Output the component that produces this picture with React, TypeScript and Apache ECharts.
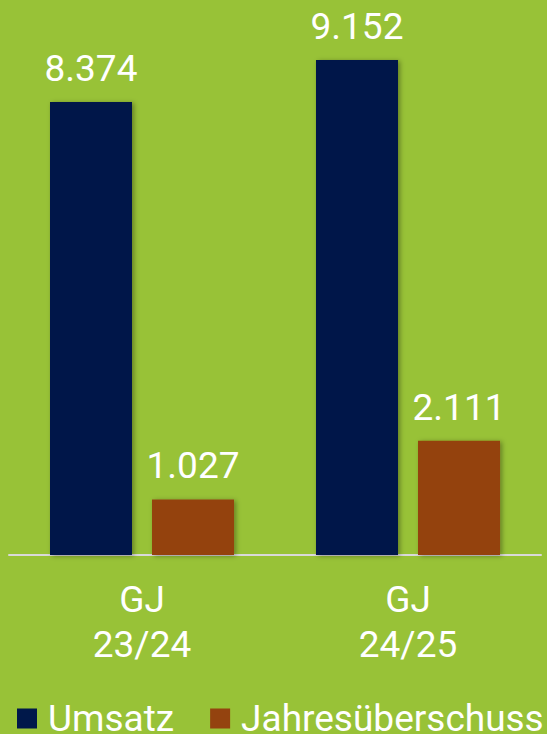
import React, { useEffect, useRef } from "react";
import * as echarts from "echarts";

const categories = ["GJ\n23/24", "GJ\n24/25"];
const umsatz = [8374, 9152];
const jahresueberschuss = [1027, 2111];
const seriesNames = ["Umsatz", "Jahresüberschuss"];

const fmt = (v: number) => {
  const s = String(Math.round(v));
  return s.replace(/\B(?=(\d{3})+(?!\d))/g, ".");
};

export default function App() {
  const ref = useRef<HTMLDivElement>(null);
  useEffect(() => {
    document.body.style.margin = "0";
    const chart = echarts.init(ref.current!, null, { renderer: "svg" });
    const font = "Roboto";
    const shadow = {
      shadowColor: "rgba(0,0,0,0.35)",
      shadowBlur: 5,
      shadowOffsetX: 2,
      shadowOffsetY: 1,
    };
    const label = {
      show: true,
      position: "top",
      distance: 15,
      color: "#ffffff",
      fontSize: 37,
      fontFamily: font,
      formatter: (p: any) => fmt(p.value),
    };
    chart.setOption({
      animation: false,
      backgroundColor: "#98C237",
      textStyle: { fontFamily: font },
      grid: { left: 9, right: 6, top: 14, bottom: 179, containLabel: false },
      legend: {
        left: 17,
        top: 700,
        width: 600,
        padding: 0,
        orient: "horizontal",
        itemWidth: 20,
        itemHeight: 20,
        itemGap: 36,
        icon: "rect",
        textStyle: { color: "#ffffff", fontSize: 37, fontFamily: font, padding: [0, 0, 0, 6] },
        data: seriesNames,
      },
      xAxis: {
        type: "category",
        data: categories,
        axisLine: { show: true, lineStyle: { color: "#D9D9D9", width: 2 } },
        axisTick: { show: false },
        axisLabel: {
          color: "#ffffff",
          fontSize: 37,
          lineHeight: 45,
          fontFamily: font,
          margin: 22,
        },
      },
      yAxis: {
        type: "value",
        min: 0,
        max: 10000,
        show: false,
        splitLine: { show: false },
      },
      series: [
        {
          name: seriesNames[0],
          type: "bar",
          data: umsatz,
          barWidth: 82,
          barGap: "24.4%",
          itemStyle: { color: "#00184A", ...shadow },
          label,
        },
        {
          name: seriesNames[1],
          type: "bar",
          data: jahresueberschuss,
          barWidth: 82,
          barGap: "24.4%",
          itemStyle: { color: "#94430F", ...shadow },
          label,
        },
      ],
    });
    return () => chart.dispose();
  }, []);
  return (
    <div
      ref={ref}
      style={{ position: "absolute", left: 0, top: 0, width: 547, height: 734 }}
    />
  );
}
